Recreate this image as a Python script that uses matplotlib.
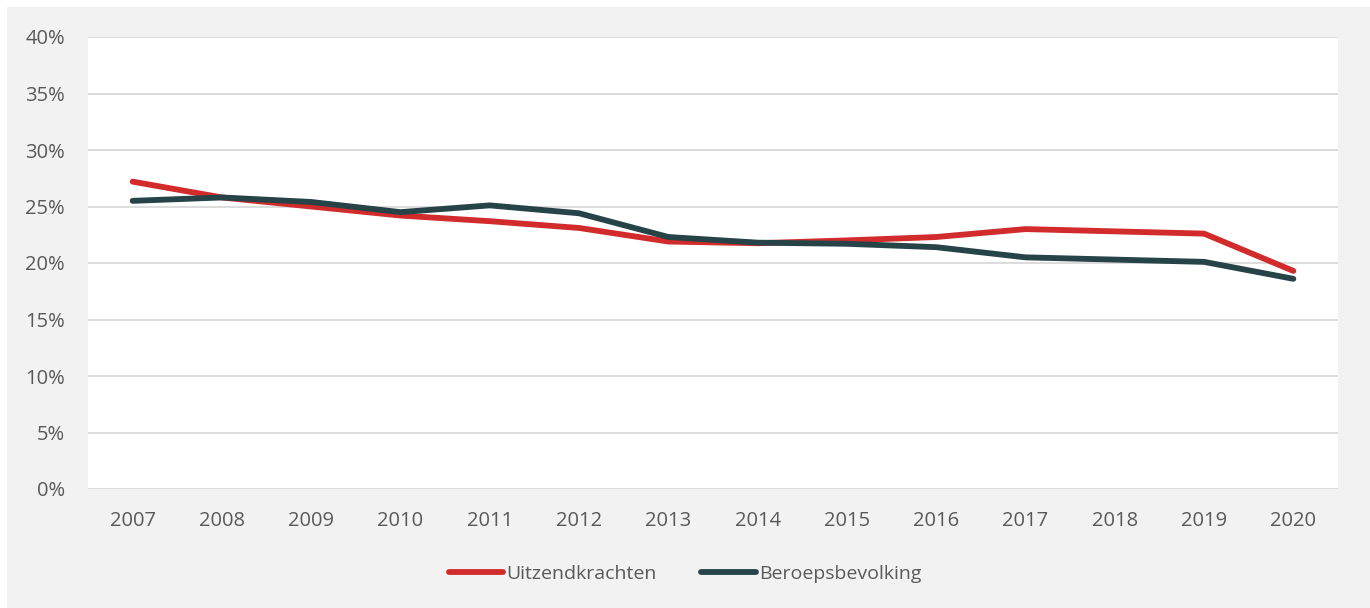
import matplotlib.pyplot as plt
from matplotlib.patches import Rectangle
from matplotlib.ticker import FuncFormatter

plt.rcParams['font.family'] = ['Open Sans', 'DejaVu Sans']

jaren = ['2007', '2008', '2009', '2010', '2011', '2012', '2013',
         '2014', '2015', '2016', '2017', '2018', '2019', '2020']
uitzendkrachten = [27.2, 25.8, 25.0, 24.2, 23.7, 23.1, 21.9,
                   21.75, 22.0, 22.3, 23.0, 22.8, 22.6, 19.3]
beroepsbevolking = [25.5, 25.8, 25.4, 24.5, 25.1, 24.4, 22.3,
                    21.8, 21.7, 21.4, 20.5, 20.3, 20.1, 18.6]

fig = plt.figure(figsize=(13.7, 6.08), dpi=100, facecolor='white')
# grijze achtergrond
fig.patches.append(Rectangle((7 / 1370, 0), 1 - 7 / 1370, 1 - 7 / 608,
                             transform=fig.transFigure, facecolor='#f2f2f2',
                             edgecolor='none', zorder=-5))

ax = fig.add_axes([88 / 1370, 1 - 489 / 608, 1250 / 1370, 452 / 608])
ax.set_facecolor('white')

x = list(range(len(jaren)))
ax.plot(x, uitzendkrachten, color='#d22b2b', lw=4.2, solid_capstyle='round',
        label='Uitzendkrachten', zorder=3)
ax.plot(x, beroepsbevolking, color='#264348', lw=4.2, solid_capstyle='round',
        label='Beroepsbevolking', zorder=4)

ax.set_xlim(-0.5, len(jaren) - 0.5)
ax.set_ylim(0, 40)
ax.set_yticks(range(0, 41, 5))
ax.yaxis.set_major_formatter(FuncFormatter(lambda v, p: '{:d}%'.format(int(v))))
ax.set_xticks(x)
ax.set_xticklabels(jaren)
ax.grid(axis='y', color='#d9d9d9', lw=1.3)
ax.set_axisbelow(True)
for s in ax.spines.values():
    s.set_visible(False)
ax.tick_params(length=0, labelsize=14.5, labelcolor='#595959')
ax.tick_params(axis='x', pad=16)
ax.tick_params(axis='y', pad=16.5)

leg = fig.legend(loc='center', bbox_to_anchor=(0.5, 1 - 574 / 608), ncol=2,
                 frameon=False, fontsize=14, handlelength=2.8,
                 handletextpad=0.15, columnspacing=2.3)
for t in leg.get_texts():
    t.set_color('#595959')

plt.savefig('out.png', dpi=100, facecolor=fig.get_facecolor())
